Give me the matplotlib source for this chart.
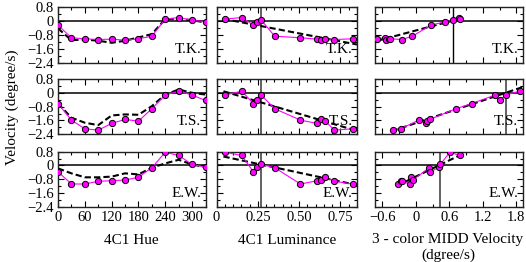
import numpy as np
import matplotlib.pyplot as plt
from matplotlib.ticker import MultipleLocator, FuncFormatter

plt.rcParams['font.family'] = ['Liberation Serif', 'DejaVu Serif']

subjects = ["T.K.", "T.S.", "E.W."]
hue = [0, 30, 60, 90, 120, 150, 180, 210, 240, 270, 300, 330]
lum = [0.223, 0.508, 0.824, 0.713, 0.609, 0.633, 0.659, 0.352, 0.052, 0.153, 0.271, 0.247]

# measured velocity (magenta), per subject, by hue
vel_tk = [-0.23, -0.96, -1.02, -1.06, -1.04, -1.10, -1.02, -0.87, 0.12, 0.21, 0.06, -0.04]
vel_ts = [-0.62, -1.58, -2.08, -2.16, -1.77, -1.54, -1.64, -0.92, -0.13, 0.10, -0.13, -0.44]
vel_ew = [-0.37, -1.08, -1.08, -0.92, -0.89, -0.85, -0.69, -0.13, 0.77, 0.58, 0.06, -0.10]

# model prediction (dashed) vs hue
model_tk = [-0.42, -1.10, -1.06, -1.13, -1.25, -1.13, -0.94, -0.75, 0.12, 0.12, 0.06, -0.08]
model_ts = [-0.62, -1.44, -1.73, -1.87, -1.31, -1.25, -1.27, -0.77, -0.10, 0.19, 0.00, -0.10]
model_ew = [-0.17, -0.46, -0.69, -0.69, -0.65, -0.46, -0.52, -0.13, 0.12, 0.33, 0.06, -0.10]

# 3-color MIDD velocity per hue
midd_tk = [0.27, -0.55, -0.69, -0.25, -0.48, -0.53, -0.46, -0.06, 0.79, 0.78, 0.67, 0.52]
midd_ts = [1.00, 0.055, -0.27, -0.41, 0.19, 0.25, 0.20, 0.72, 1.42, 1.86, 1.61, 1.50]
midd_ew = [0.26, -0.105, -0.31, -0.25, -0.27, -0.05, -0.09, 0.24, 0.61, 0.79, 0.44, 0.42]

# linear fits (intercept, slope)
lum_fit = [(0.21, -1.835), (0.21, -2.84), (0.607, -2.055)]
midd_fit = [(-0.54, 0.86), (-1.75, 1.089), (-0.65, 1.58)]

lum_iso = 0.27
midd_zero = [0.66, 1.61, 0.44]

vel = [vel_tk, vel_ts, vel_ew]
model = [model_tk, model_ts, model_ew]
midd = [midd_tk, midd_ts, midd_ew]

W, H = 526, 262
fig = plt.figure(figsize=(W / 100, H / 100), dpi=100)

cols = [(58, 205.5), (216.5, 357), (375, 522.5)]
rows = [(7.3, 62.7), (79, 134.3), (151.7, 206.7)]

MAG = '#ff00ff'


def fmt(v, pos):
    if abs(v) < 1e-9:
        return "0"
    return ("%g" % v).replace('-', '\u2212')


def fmt2(v, pos):
    if abs(v) < 1e-9:
        return "0"
    return "%.2f" % v


def style(ax, r, c):
    ax.set_ylim(-2.4, 0.8)
    ax.yaxis.set_major_locator(MultipleLocator(0.8))
    ax.yaxis.set_minor_locator(MultipleLocator(0.4))
    ax.tick_params(which='both', direction='in', top=True, right=True,
                   labelsize=10.5, width=0.8, pad=3)
    ax.tick_params(which='major', length=4)
    ax.tick_params(which='minor', length=2.5)
    for s in ax.spines.values():
        s.set_linewidth(1.0)
        s.set_color('#222222')
    ax.axhline(0, color='black', lw=1.1, zorder=1)
    if c == 0:
        ax.yaxis.set_major_formatter(FuncFormatter(fmt))
    else:
        ax.set_yticklabels([])
    if r != 2:
        ax.set_xticklabels([])
    ax.text(0.97, 0.12, subjects[r], transform=ax.transAxes, ha='right',
            va='bottom', fontsize=11)


for r in range(3):
    axes = []
    for c in range(3):
        x0, x1 = cols[c]
        y0, y1 = rows[r]
        ax = fig.add_axes([x0 / W, 1 - y1 / H, (x1 - x0) / W, (y1 - y0) / H])
        axes.append(ax)
    v = np.array(vel[r])

    # hue
    ax = axes[0]
    ax.plot(hue, model[r], color='black', ls='--', lw=1.5, dashes=(3, 1.5), zorder=2)
    ax.plot(hue, v, color=MAG, lw=0.8, marker='o', ms=4.5, mfc=MAG, mec='black',
            mew=0.7, zorder=3)
    ax.set_xlim(0, 330)
    ax.xaxis.set_major_locator(MultipleLocator(60))
    ax.xaxis.set_minor_locator(MultipleLocator(30))
    style(ax, r, 0)

    # luminance
    ax = axes[1]
    order = np.argsort(lum)
    xl = np.array(lum)[order]
    ax.set_xlim(0, 0.85)
    b, m = lum_fit[r]
    xx = np.array([xl[0] - 0.01, 0.85])
    ax.plot(xx, b + m * xx, color='black', ls='--', lw=1.5, dashes=(3, 1.5), zorder=2)
    ax.axvline(lum_iso, color='#555555', lw=1.3, zorder=1)
    ax.plot(xl, v[order], color=MAG, lw=0.8, marker='o', ms=4.5, mfc=MAG, mec='black',
            mew=0.7, zorder=3)
    ax.xaxis.set_major_locator(MultipleLocator(0.25))
    ax.xaxis.set_minor_locator(MultipleLocator(0.05))
    ax.xaxis.set_major_formatter(FuncFormatter(fmt2))
    style(ax, r, 1)

    # MIDD velocity
    ax = axes[2]
    order = np.argsort(midd[r])
    xm = np.array(midd[r])[order]
    ax.set_xlim(-0.73, 1.91)
    b, m = midd_fit[r]
    xx = np.array([xm[0] - 0.02, xm[-1] + 0.05])
    ax.plot(xx, b + m * xx, color='black', ls='--', lw=1.5, dashes=(3, 1.5), zorder=2)
    ax.axvline(midd_zero[r], color='black' if r == 0 else '#555555',
               lw=1.0 if r == 0 else 1.3, zorder=1)
    ax.plot(xm, v[order], color=MAG, lw=0.8, marker='o', ms=4.5, mfc=MAG, mec='black',
            mew=0.7, zorder=3)
    ax.xaxis.set_major_locator(MultipleLocator(0.6))
    ax.xaxis.set_minor_locator(MultipleLocator(0.3))
    ax.xaxis.set_major_formatter(FuncFormatter(fmt))
    style(ax, r, 2)

fig.text(12 / W, 1 - 107 / H, "Velocity (degree/s)", rotation=90, ha='center',
         va='center', fontsize=11)
fig.text(131 / W, 1 - 240 / H, "4C1 Hue", ha='center', va='center', fontsize=11)
fig.text(287 / W, 1 - 240 / H, "4C1 Luminance", ha='center', va='center', fontsize=11)
fig.text(448 / W, 1 - 240 / H, "3 - color MIDD Velocity", ha='center', va='center',
         fontsize=11)
fig.text(448 / W, 1 - 255 / H, "(dgree/s)", ha='center', va='center', fontsize=11)

fig.savefig("out.png", dpi=100)
